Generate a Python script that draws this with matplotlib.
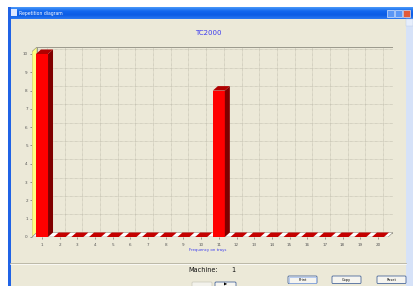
import numpy as np
import matplotlib
matplotlib.use("Agg")
import matplotlib.pyplot as plt
from matplotlib.patches import Rectangle, FancyBboxPatch, Polygon

# data
trays = list(range(1, 21))
counts = [10, 0, 0, 0, 0, 0, 0, 0, 0, 0, 8, 0, 0, 0, 0, 0, 0, 0, 0, 0]
y_ticks = list(range(0, 11))
chart_title = "TC2000"
x_label = "Frequency on trays"
window_title = "Repetition diagram"
machine_no = 1
buttons = ["Print", "Copy", "Reset"]

W, H = 413, 286
fig = plt.figure(figsize=(W / 100, H / 100), dpi=100)
fig.patch.set_facecolor("white")

# window decoration in pixel coords
bg = fig.add_axes([0, 0, 1, 1])
bg.set_xlim(0, W)
bg.set_ylim(H, 0)
bg.axis("off")

beige = "#ECE9D8"
bg.add_patch(Rectangle((8, 7), 405, 280, facecolor=beige, edgecolor="none"))
# title bar gradient
grad = np.linspace(0, 1, 30).reshape(-1, 1)
cmap = matplotlib.colors.LinearSegmentedColormap.from_list(
    "xp", ["#4A98F8", "#1166EE", "#0A5CE6", "#2A78F0"])
bg.imshow(grad, extent=(8, 413, 19, 7), cmap=cmap, aspect="auto", zorder=1)
bg.add_patch(Rectangle((8, 7), 2.5, 280, facecolor="#2063E6", edgecolor="none", zorder=2))
bg.add_patch(Rectangle((11, 9), 6, 7, facecolor="#DDE8FF", edgecolor="none", zorder=2))
bg.text(19, 13.2, window_title, color="white", fontsize=3.3, va="center", ha="left", zorder=3)
bg.add_patch(Rectangle((387, 9.5), 7, 7, facecolor="#5A96F5", edgecolor="white", lw=0.4, zorder=3))
bg.add_patch(Rectangle((395, 9.5), 7, 7, facecolor="#5A96F5", edgecolor="white", lw=0.4, zorder=3))
bg.add_patch(Rectangle((403, 9.5), 7, 7, facecolor="#E25A3A", edgecolor="white", lw=0.4, zorder=3))
# scrollbar
bg.add_patch(Rectangle((406, 19), 7, 267, facecolor="#D6E2F8", edgecolor="none", zorder=2))
bg.add_patch(Rectangle((406, 19), 7, 7, facecolor="#E6EEFC", edgecolor="#B8C8E8", lw=0.3, zorder=3))

bg.text(208, 33, chart_title, color="#3A3AF0", fontsize=5, ha="center", va="center")
bg.text(208, 250, x_label, color="#3A3AF0", fontsize=2.8, ha="center", va="center")
bg.plot([10, 406], [262.5, 262.5], color="#B5B2A0", lw=0.6)
bg.plot([10, 406], [263.5, 263.5], color="white", lw=0.5)
bg.text(188, 270, "Machine:", fontsize=4.7, ha="left", va="center", color="#111111")
bg.text(231, 270, str(machine_no), fontsize=4.7, ha="left", va="center", color="#111111")

for i, (lbl, x0) in enumerate(zip(buttons, [288, 332, 377])):
    bg.add_patch(FancyBboxPatch((x0, 276), 29, 7.5, boxstyle="round,pad=0,rounding_size=1",
                                facecolor="#F6F5F0", edgecolor="#2A4E8C", lw=0.5, zorder=4))
    if i == 0:
        bg.add_patch(Rectangle((x0 + 0.8, 276.8), 27.4, 5.9, facecolor="none",
                               edgecolor="#9DBBF0", lw=0.5, zorder=4))
    bg.text(x0 + 14.5, 279.8, lbl, fontsize=2.5, ha="center", va="center", zorder=5)
bg.add_patch(FancyBboxPatch((192, 282), 20, 8, boxstyle="round,pad=0,rounding_size=1",
                            facecolor="#F3F2EC", edgecolor="#C9C7BA", lw=0.5))
bg.add_patch(FancyBboxPatch((215, 282), 21, 8, boxstyle="round,pad=0,rounding_size=1",
                            facecolor="#F6F5F0", edgecolor="#2A4E8C", lw=0.5))
bg.text(225.5, 285, "\u25b6", fontsize=3, ha="center", va="center")

# chart axes
left, right, bottom, top = 32, 393, 237, 47
ax = fig.add_axes([left / W, (H - bottom) / H, (right - left) / W, (bottom - top) / H])
ax.set_facecolor("none")
pxx = 17.68
pxy = 18.3
x0 = 1 - (42 - left) / pxx
x1 = 20 + (right - 378) / pxx
y1 = (bottom - top) / pxy
ax.set_xlim(x0, x1)
ax.set_ylim(0, y1)
dx = 5 / pxx
dy = 4.5 / pxy

grid_c = "#B3B0A0"
ax.add_patch(Polygon([(x0 + dx, dy), (x1, dy), (x1, y1), (x0 + dx, y1)],
                     facecolor=beige, edgecolor="#8E8C80", lw=0.6, zorder=0))
for t in trays:
    ax.plot([t + dx, t + dx], [dy, y1], color=grid_c, lw=0.45, ls=(0, (1, 1)), zorder=1)
for v in y_ticks[1:]:
    ax.plot([x0 + dx, x1], [v + dy, v + dy], color=grid_c, lw=0.45, ls=(0, (1, 1)), zorder=1)
# left wall and floor
ax.add_patch(Polygon([(x0, 0), (x0 + dx, dy), (x0 + dx, y1), (x0, y1 - dy)],
                     facecolor="#FFFF80", edgecolor="#8E8C80", lw=0.4, zorder=2))
ax.add_patch(Polygon([(x0, 0), (x1 - dx, 0), (x1, dy), (x0 + dx, dy)],
                     facecolor="white", edgecolor="#8E8C80", lw=0.4, zorder=2))

bw = 0.68
ax.bar(trays, counts, width=bw, color="#FF0000", edgecolor="none", zorder=3)
for t, v in zip(trays, counts):
    xl, xr = t - bw / 2, t + bw / 2
    ax.fill([xl, xr, xr + dx, xl + dx], [v, v, v + dy, v + dy],
            color="#C40000" if v == 0 else "#B00000", lw=0, zorder=4)
    if v > 0:
        ax.fill([xr, xr + dx, xr + dx, xr], [0, dy, v + dy, v],
                color="#800000", lw=0, zorder=4)

for s in ax.spines.values():
    s.set_visible(False)
ax.set_xticks(trays)
ax.set_yticks(y_ticks)
ax.tick_params(labelsize=3, length=1.5, width=0.4, pad=1.5, colors="#555555")
ax.tick_params(axis="x", pad=3)

fig.savefig("out.png", dpi=100)
